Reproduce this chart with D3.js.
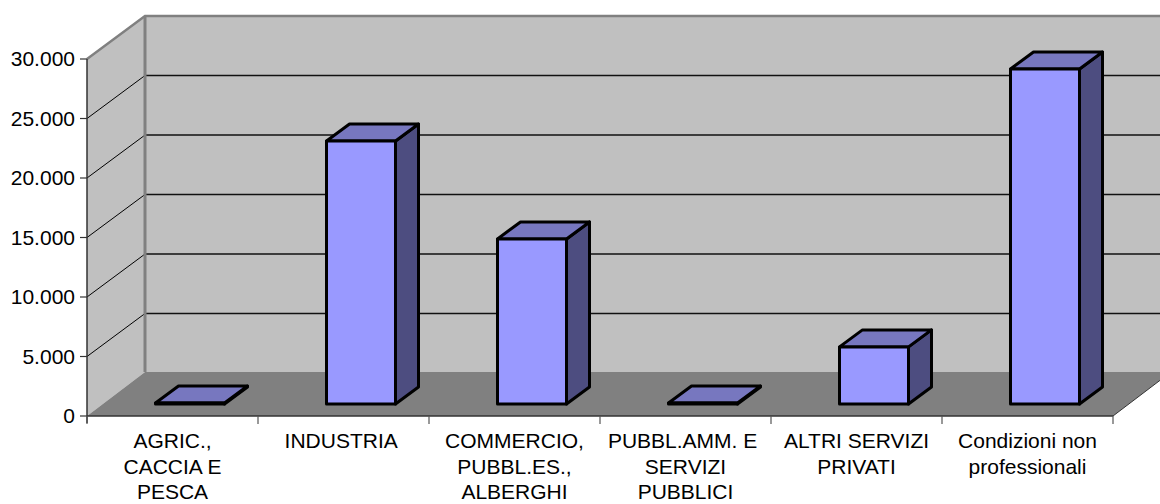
<!DOCTYPE html>
<html><head><meta charset="utf-8">
<script src="https://cdn.jsdelivr.net/npm/d3@7/dist/d3.min.js"></script>
<style>html,body{margin:0;padding:0;background:#fff;overflow:hidden}svg{display:block}text{font-family:"Liberation Sans",Arial,sans-serif;fill:#000;white-space:pre}</style>
</head><body><svg id="c" width="1160" height="504"></svg>
<script>
const categories=[["AGRIC.,","CACCIA E","PESCA"],["INDUSTRIA "],["COMMERCIO,","PUBBL.ES.,","ALBERGHI"],["PUBBL.AMM. E ","SERVIZI","PUBBLICI"],["ALTRI SERVIZI","PRIVATI"],["Condizioni non","professionali"]];
const values=[80,22100,13870,80,4800,28150];
const tickValues=[0,5000,10000,15000,20000,25000,30000];
const svg=d3.select("#c");
const W=1160,H=504;
const x=d3.scaleBand().domain(d3.range(categories.length)).range([87,1113]);
const y=d3.scaleLinear().domain([0,30000]).range([416,59]);
const DX=58,DY=43;
const fmt=d3.formatLocale({decimal:",",thousands:".",grouping:[3],currency:["",""]}).format(",d");
const poly=(pts,attrs)=>{const p=svg.append("polygon").attr("points",pts.map(d=>d.join(",")).join(" "));for(const k in attrs)p.attr(k,attrs[k]);return p;};
const x0=x.range()[0],x1=x.range()[1],yT=y(30000),yB=y(0);
const yF=yB-DY-1;
poly([[x0+DX,yT-DY],[W+20,yT-DY],[W+20,yF],[x0+DX,yF]],{fill:"#c0c0c0"});
poly([[x0,yT],[x0+DX,yT-DY],[x0+DX,yF],[x0,yB]],{fill:"#c0c0c0"});
poly([[x0,yB],[x1,yB],[x1+DX,yF],[x0+DX,yF]],{fill:"#808080"});
tickValues.slice(1,-1).forEach(v=>{
  const p=y(v);
  svg.append("line").attr("x1",x0+DX).attr("x2",W).attr("y1",p-DY).attr("y2",p-DY).attr("stroke","#111").attr("stroke-width",1.3);
  svg.append("line").attr("x1",x0).attr("x2",x0+DX).attr("y1",p).attr("y2",p-DY).attr("stroke","#000").attr("stroke-width",1);
});
const G="#808080";
svg.append("path").attr("d",`M${x0},${yT}L${x0+DX},${yT-DY}H${W}`).attr("fill","none").attr("stroke",G).attr("stroke-width",2.4);
svg.append("line").attr("x1",x0+DX).attr("x2",x0+DX).attr("y1",yT-DY).attr("y2",yF).attr("stroke",G).attr("stroke-width",3);
const BW=69,bdx=16,bdy=12,tdx=23,tdy=17;
const h0=yB-bdy;
values.forEach((v,i)=>{
  const l=x(i)+x.bandwidth()/2+bdx-BW/2+1.5,r=l+BW,top=y(v)-bdy;
  const a={stroke:"#000","stroke-width":3,"stroke-linejoin":"round"};
  poly([[r,top],[r+tdx,top-tdy],[r+tdx,h0-tdy],[r,h0]],{...a,fill:"#4d4d80"});
  poly([[l,top],[l+tdx,top-tdy],[r+tdx,top-tdy],[r,top]],{...a,fill:"#7777bf"});
  poly([[l,top],[r,top],[r,h0],[l,h0]],{...a,fill:"#9999ff"});
});
svg.append("line").attr("x1",x0).attr("x2",x0).attr("y1",yT).attr("y2",yB+7).attr("stroke","#333").attr("stroke-width",1.5);
svg.append("line").attr("x1",x0).attr("x2",x1).attr("y1",yB).attr("y2",yB).attr("stroke","#333").attr("stroke-width",1.5);
tickValues.forEach(v=>{
  svg.append("line").attr("x1",x0-7).attr("x2",x0).attr("y1",y(v)).attr("y2",y(v)).attr("stroke","#333").attr("stroke-width",1.2);
  svg.append("text").attr("x",75).attr("y",y(v)+7).attr("text-anchor","end").attr("font-size",21).text(fmt(v));
});
d3.range(categories.length+1).forEach(i=>{
  const p=i<categories.length?x(i):x1;
  svg.append("line").attr("x1",p).attr("x2",p).attr("y1",yB).attr("y2",yB+8).attr("stroke","#555").attr("stroke-width",1.2);
});
svg.append("line").attr("x1",x1).attr("x2",x1+DX).attr("y1",yB).attr("y2",yF).attr("stroke","#333").attr("stroke-width",1);
categories.forEach((c,i)=>{
  const t=svg.append("text").attr("text-anchor","middle").attr("font-size",21);
  c.forEach((s,j)=>t.append("tspan").attr("x",x(i)+x.bandwidth()/2).attr("y",448+j*25.7).text(s));
});
</script></body></html>
